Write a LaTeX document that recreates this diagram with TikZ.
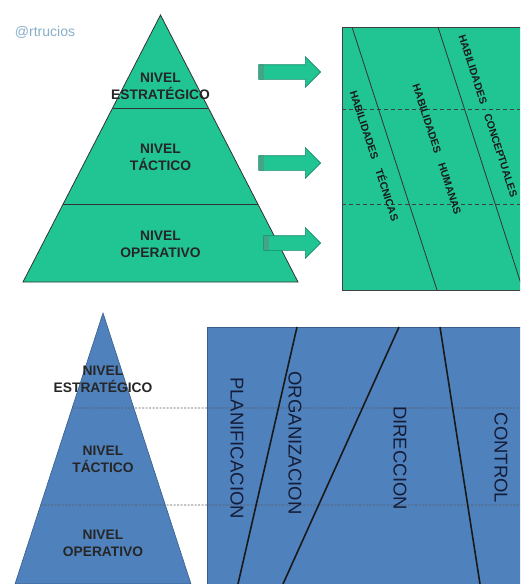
\documentclass[tikz,border=0pt]{standalone}
\usepackage{fontspec}
\setmainfont{Liberation Sans}
\usetikzlibrary{calc, shapes.arrows}

\definecolor{verde}{RGB}{33,197,148}
\definecolor{verdeosc}{RGB}{22,140,104}
\definecolor{azul}{RGB}{79,129,189}
\definecolor{azulosc}{RGB}{56,93,138}
\definecolor{marca}{RGB}{135,175,200}
\definecolor{tinta}{RGB}{20,28,55}

\begin{document}
\begin{tikzpicture}[x=1pt, y=-1pt]
    % Define styles
    \tikzset{nivel/.style={font=\bfseries\fontsize{13.8}{17}\selectfont, align=center, text=black!85, inner sep=0pt}}
    \tikzset{habilidad/.style={font=\bfseries\fontsize{10.5}{12}\selectfont, rotate=-72, inner sep=0pt, text=black!90}}
    \tikzset{funcion/.style={font=\fontsize{18.5}{20}\selectfont, rotate=-90, inner sep=0pt, text=tinta}}
    \tikzset{flecha/.style={single arrow, fill=verde, draw=verdeosc, line width=0.6pt, minimum height=62pt, inner sep=7pt, single arrow head extend=8pt,
        path picture={\fill[verdeosc!80] (path picture bounding box.south west) rectangle ++(5pt,40pt);}}}
    \tikzset{divisor/.style={dash pattern=on 2pt off 1.5pt, black!65, line width=0.7pt}}

    % Canvas
    \useasboundingbox (0,0) rectangle (520,584);
    \clip (0,0) rectangle (520,584);
    \fill[white] (0,0) rectangle (520,584);

    \node[font=\fontsize{14}{16}\selectfont, text=marca] (firma) at (45,32) {@rtrucios};

    % TOP: green pyramid and habilidades
    \begin{scope}
        % Coordinates
        \coordinate (apexV) at (160.5,15);
        \coordinate (baseVl) at (23,282);
        \coordinate (baseVr) at (298,282);

        % Pyramid
        \draw[fill=verde, draw=black!80, line width=0.8pt] (apexV) -- (baseVl) -- (baseVr) -- cycle;
        \draw[black!80, line width=0.8pt] ($(apexV)!0.3483!(baseVl)$) -- ($(apexV)!0.3483!(baseVr)$);
        \draw[black!80, line width=0.8pt] ($(apexV)!0.7079!(baseVl)$) -- ($(apexV)!0.7079!(baseVr)$);
        \node[nivel] (estV) at (160.5,86) {NIVEL\\ESTRATÉGICO};
        \node[nivel] (tacV) at (160.5,157) {NIVEL\\TÁCTICO};
        \node[nivel] (opeV) at (160.5,244) {NIVEL\\OPERATIVO};

        % Arrows
        \node[flecha] (flechaE) at (286,72) {};
        \node[flecha] (flechaT) at (286,163) {};
        \node[flecha, minimum height=57pt] (flechaO) at (288.5,243) {};

        % Habilidades box
        \draw[fill=verde, draw=black!75, line width=0.8pt] (342,27) rectangle (530,290);
        \draw[divisor, black!75, dash pattern=on 4pt off 3pt] (342,109) -- (520,109);
        \draw[divisor, black!75, dash pattern=on 4pt off 3pt] (342,204) -- (520,204);
        \draw[black!80, line width=0.8pt] (352,27) -- (437,290);
        \draw[black!80, line width=0.8pt] (438,27) -- (523,290);
        \node[habilidad] (habTec) at (375,155.5) {HABILIDADES\hspace{11pt}TÉCNICAS};
        \node[habilidad] (habHum) at (437,149.5) {HABILIDADES\hspace{11pt}HUMANAS};
        \node[habilidad] (habCon) at (488,116) {HABILIDADES\hspace{11pt}CONCEPTUALES};
    \end{scope}

    % BOTTOM: blue pyramid and funciones
    \begin{scope}
        % Coordinates
        \coordinate (apexA) at (103,313);
        \coordinate (baseAl) at (15,584);
        \coordinate (baseAr) at (191,584);

        % Funciones box
        \draw[fill=azul, draw=azulosc, line width=0.8pt] (207,327) rectangle (530,600);

        % Pyramid
        \draw[fill=azul, draw=azulosc, line width=0.6pt] (apexA) -- (baseAl) -- (baseAr) -- cycle;

        % Dashed levels
        \draw[divisor] ($(apexA)!0.3506!(baseAl)$) -- (520,408);
        \draw[divisor] ($(apexA)!0.7085!(baseAl)$) -- (520,505);

        % Dividing lines
        \draw[black!90, line width=1.6pt] (297,327) -- (238,584);
        \draw[black!90, line width=1.6pt] (399,327) -- (283,584);
        \draw[black!90, line width=1.6pt] (440,327) -- (480,584);

        \node[funcion] (planif) at (237,448) {PLANIFICACION};
        \node[funcion] (organ) at (295,443) {ORGANIZACION};
        \node[funcion] (direc) at (400,458) {DIRECCION};
        \node[funcion] (contr) at (501,458) {CONTROL};

        \node[nivel] (estA) at (103,379) {NIVEL\\ESTRATÉGICO};
        \node[nivel] (tacA) at (103,459) {NIVEL\\TÁCTICO};
        \node[nivel] (opeA) at (103,543) {NIVEL\\OPERATIVO};
    \end{scope}

\end{tikzpicture}
\end{document}
